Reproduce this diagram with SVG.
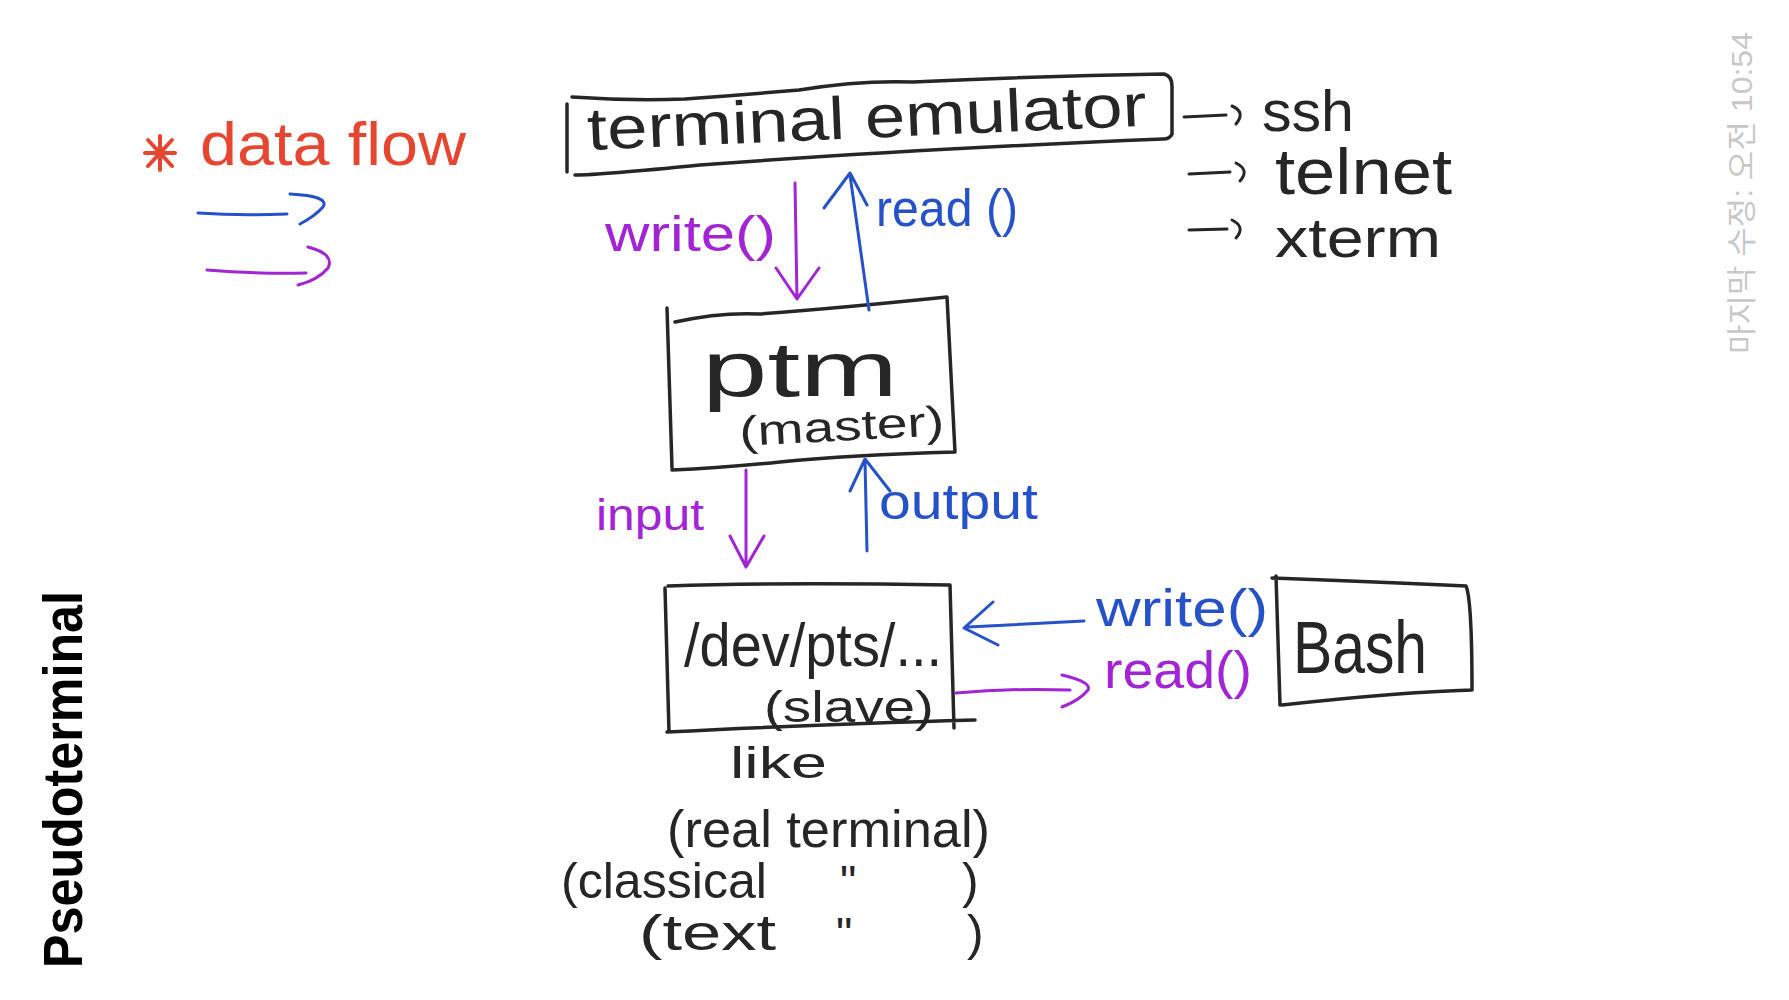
<svg xmlns="http://www.w3.org/2000/svg" width="1789" height="1000" viewBox="0 0 1789 1000">
<defs>
<style>
.box{fill:none;stroke:#262626;stroke-width:3.5;stroke-linecap:round;stroke-linejoin:round}
.ink{font-family:"Liberation Sans","DejaVu Sans",sans-serif;fill:#262626}
.blk{fill:none;stroke:#262626;stroke-width:3;stroke-linecap:round;stroke-linejoin:round}
.blue{fill:none;stroke:#2552c9;stroke-width:3;stroke-linecap:round;stroke-linejoin:round}
.purp{fill:none;stroke:#a224d4;stroke-width:3;stroke-linecap:round;stroke-linejoin:round}
.tb{font-family:"Liberation Sans","DejaVu Sans",sans-serif;fill:#2552c9}
.tp{font-family:"Liberation Sans","DejaVu Sans",sans-serif;fill:#a224d4}
.tr{font-family:"Liberation Sans","DejaVu Sans",sans-serif;fill:#e6452f}
</style>
</defs>
<rect width="1789" height="1000" fill="#ffffff"/>

<g id="legend">
<text class="tr" x="200" y="165" font-size="62" textLength="266" lengthAdjust="spacingAndGlyphs">data flow</text>
<g stroke="#e6452f" stroke-width="4" stroke-linecap="round">
<line x1="145" y1="153" x2="175" y2="153"/>
<line x1="148" y1="140" x2="172" y2="166"/>
<line x1="172" y1="140" x2="148" y2="166"/>
<line x1="160" y1="136" x2="160" y2="170"/>
</g>
<path class="blue" stroke-width="4" d="M198,213 Q240,216 287,214 M290,194 Q330,196 323,207 Q315,216 300,224"/>
<path class="purp" stroke-width="4" d="M207,270 Q255,274 306,273 M308,247 Q335,254 328,268 Q318,280 298,285"/>
</g>

<g id="terminal-emulator">
<path class="box" d="M567,104 L567,172 M572,97 Q630,101 685,99 Q740,95 799,90 Q860,80 913,82 Q1040,76 1164,74 Q1172,76 1172,86 L1172,134 Q1170,139 1163,139 Q900,150 700,165 Q600,175 575,175"/>
<text class="ink" x="588" y="150" font-size="60" textLength="560" lengthAdjust="spacingAndGlyphs" transform="rotate(-2.5 588 150)">terminal emulator</text>
</g>

<g id="ssh-list">
<path class="blk" d="M1184,117 L1226,115 M1232,106 Q1246,112 1236,124"/>
<text class="ink" x="1262" y="131" font-size="58" textLength="92" lengthAdjust="spacingAndGlyphs">ssh</text>
<path class="blk" d="M1189,174 L1230,172 M1236,163 Q1250,170 1240,181"/>
<text class="ink" x="1275" y="194" font-size="64" textLength="177" lengthAdjust="spacingAndGlyphs">telnet</text>
<path class="blk" d="M1189,230 L1227,229 M1232,220 Q1246,227 1236,238"/>
<text class="ink" x="1275" y="257" font-size="56" textLength="166" lengthAdjust="spacingAndGlyphs">xterm</text>
</g>

<g id="ptm">
<path class="box" d="M667,308 L672,468 M675,322 Q720,312 760,314 Q840,308 947,297 L955,452 Q850,455 780,462 Q720,468 672,470"/>
<text class="ink" x="702" y="396" font-size="78" textLength="196" lengthAdjust="spacingAndGlyphs">ptm</text>
<text class="ink" x="740" y="446" font-size="42" textLength="205" lengthAdjust="spacingAndGlyphs" transform="rotate(-3 740 446)">(master)</text>
</g>

<g id="pts">
<path class="box" d="M665,588 L669,732 M668,586 Q780,582 950,585 L954,728 M667,732 Q800,725 975,720"/>
<text class="ink" x="684" y="666" font-size="62" textLength="258" lengthAdjust="spacingAndGlyphs">/dev/pts/...</text>
<text class="ink" x="764" y="722" font-size="44" textLength="170" lengthAdjust="spacingAndGlyphs">(slave)</text>
</g>

<g id="bash">
<path class="box" d="M1276,576 L1280,705 M1272,578 Q1380,582 1466,586 Q1472,600 1472,690 Q1400,692 1282,705"/>
<text class="ink" x="1293" y="673" font-size="74" textLength="134" lengthAdjust="spacingAndGlyphs">Bash</text>
</g>

<g id="notes">
<text class="ink" x="730" y="778" font-size="44" textLength="97" lengthAdjust="spacingAndGlyphs">like</text>
<text class="ink" x="667" y="847" font-size="52" textLength="323" lengthAdjust="spacingAndGlyphs">(real terminal)</text>
<text class="ink" x="561" y="898" font-size="50" textLength="206" lengthAdjust="spacingAndGlyphs">(classical</text>
<text class="ink" x="840" y="898" font-size="46">"</text>
<text class="ink" x="962" y="898" font-size="50">)</text>
<text class="ink" x="639" y="950" font-size="50" textLength="137" lengthAdjust="spacingAndGlyphs">(text</text>
<text class="ink" x="836" y="950" font-size="46">"</text>
<text class="ink" x="967" y="950" font-size="50">)</text>
</g>

<g id="connectors">
<path class="purp" d="M795,183 L797,299 M776,268 L797,299 L819,268"/>
<text class="tp" x="605" y="251" font-size="50" textLength="171" lengthAdjust="spacingAndGlyphs">write()</text>
<path class="blue" d="M869,310 L850,175 M824,208 L850,173 L867,205"/>
<text class="tb" x="876" y="226" font-size="52" textLength="142" lengthAdjust="spacingAndGlyphs">read ()</text>
<path class="purp" d="M746,470 L746,566 M730,536 L746,567 L764,536"/>
<text class="tp" x="596" y="530" font-size="44" textLength="108" lengthAdjust="spacingAndGlyphs">input</text>
<path class="blue" d="M867,551 L865,461 M850,491 L865,459 L890,491"/>
<text class="tb" x="879" y="519" font-size="50" textLength="159" lengthAdjust="spacingAndGlyphs">output</text>
<path class="blue" stroke-width="4" d="M1084,621 L968,627 M993,602 L964,628 L998,645"/>
<text class="tb" x="1096" y="626" font-size="52" textLength="172" lengthAdjust="spacingAndGlyphs">write()</text>
<path class="purp" stroke-width="4" d="M956,693 Q1010,688 1070,690 M1062,675 Q1092,682 1088,690 Q1080,700 1062,707"/>
<text class="tp" x="1104" y="688" font-size="52" textLength="148" lengthAdjust="spacingAndGlyphs">read()</text>
</g>

<text x="82" y="968" transform="rotate(-90 82 968)" font-family="Liberation Sans, Arial, sans-serif" font-weight="bold" font-size="55" textLength="377" lengthAdjust="spacingAndGlyphs" fill="#000">Pseudoterminal</text>
<text x="1752" y="354" transform="rotate(-90 1752 354)" font-family="Liberation Sans, Noto Sans CJK KR, sans-serif" font-size="30" textLength="322" lengthAdjust="spacingAndGlyphs" fill="#c8c8c8">마지막 수정: 오전 10:54</text>
</svg>
